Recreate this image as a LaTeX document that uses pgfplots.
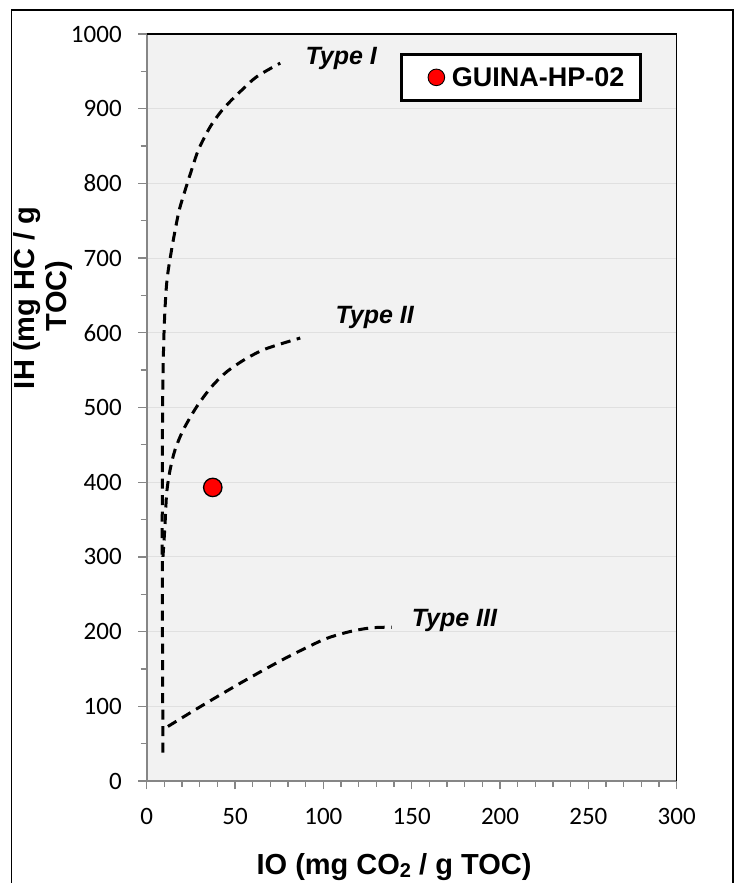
\documentclass[border=0pt]{standalone}
\usepackage{fontspec}
\setmainfont{Liberation Sans}
\newfontfamily\carlito{Carlito}
\usepackage{pgfplots}
\pgfplotsset{compat=1.18}
\definecolor{plotbg}{HTML}{F2F2F2}
\definecolor{axisgray}{HTML}{868686}
\definecolor{gridgray}{HTML}{E0E0E0}
\definecolor{markred}{HTML}{FF0000}

\begin{document}
\begin{tikzpicture}
\useasboundingbox (0,0) rectangle (734bp,883bp);
% outer chart frame
\draw[black, line width=1.3bp] (11.7bp,-2bp) -- (11.7bp,873bp) -- (733bp,873bp) -- (733bp,-2bp);
\begin{axis}[
  at={(146.7bp,102bp)}, anchor=south west,
  scale only axis, width=530bp, height=747bp,
  xmin=0, xmax=300, ymin=0, ymax=1000,
  clip=false,
  axis lines=left,
  axis line style={-, axisgray, line width=2bp},
  axis background/.style={fill=plotbg},
  xtick={0,50,...,300}, ytick={0,100,...,1000},
  minor x tick num=4, minor y tick num=1,
  tick align=outside, major tick length=8.5bp, minor tick length=6bp,
  tick style={axisgray, line width=1.3bp},
  ymajorgrids, major grid style={gridgray, line width=1bp},
  /pgf/number format/assume math mode=true,
  /pgf/number format/set thousands separator={},
  ticklabel style={font=\carlito\fontsize{25bp}{30bp}\selectfont},
  yticklabel style={xshift=-13bp},
  xticklabel style={yshift=-15bp},
  legend style={at={(0.4775,0.9743)}, anchor=north west, draw=black,
    line width=3bp, fill=white, inner xsep=16.5bp, inner ysep=12.5bp,
    nodes={inner sep=0pt},
    font=\bfseries\fontsize{27bp}{30bp}\selectfont,
    /tikz/every odd column/.append style={column sep=6.7bp}},
  legend cell align=left,
  legend image code/.code={
    \path (-17.1bp,0bp);
    \draw[fill=markred, draw=black, line width=0.9bp] (0bp,0bp) circle (8.3bp);},
]
% kerogen evolution paths
\addplot[forget plot, black, line width=3bp, dash pattern=on 10bp off 6.5bp, smooth, tension=0.5]
  coordinates {(9.2,38) (8.8,300) (9.0,500) (9.8,600) (11.3,666) (14,710) (18,760)
               (21,785) (25,815) (29.3,845) (36,876) (43.4,900) (53,923) (62.4,943) (75.6,961)};
\addplot[forget plot, black, line width=3bp, dash pattern=on 10bp off 6.5bp, smooth, tension=0.5]
  coordinates {(9.2,300) (10.3,340) (11.3,385) (13.2,416) (16,443) (20.7,470) (28.3,501)
               (36.8,528) (45.4,548) (56.7,566) (68,579) (86.9,593)};
\addplot[forget plot, black, line width=3bp, dash pattern=on 10bp off 6.5bp, smooth, tension=0.5]
  coordinates {(12,73) (30,99) (53,131) (75,160) (90,178) (102,191) (115,200)
               (127,205) (138.7,206)};
% sample
\addplot[only marks, mark=*, mark size=9.2bp,
  mark options={fill=markred, draw=black, line width=1.3bp}]
  coordinates {(37.4,393)};
\addlegendentry{GUINA-HP-02}
% path labels
\node[anchor=base west, font=\bfseries\itshape\fontsize{25bp}{30bp}\selectfont]
  at (axis cs:87.9,958.5) {Type I};
\node[anchor=base west, font=\bfseries\itshape\fontsize{25bp}{30bp}\selectfont]
  at (axis cs:104.9,612.7) {Type II};
\node[anchor=base west, font=\bfseries\itshape\fontsize{25bp}{30bp}\selectfont]
  at (axis cs:148.1,206.6) {Type III};
% plot area frame, top and right
\draw[black, line width=1.3bp] (rel axis cs:0,1) -- (rel axis cs:1,1) -- (rel axis cs:1,0);
\end{axis}
% axis titles
\node[anchor=base, font=\bfseries\fontsize{29bp}{33bp}\selectfont]
  at (394bp,9bp) {IO (mg CO\raisebox{-0.12em}{\fontsize{20bp}{22bp}\selectfont 2} / g TOC)};
\node[rotate=90, anchor=base, font=\bfseries\fontsize{29bp}{33bp}\selectfont]
  at (34bp,585bp) {IH (mg HC / g};
\node[rotate=90, anchor=base, font=\bfseries\fontsize{29bp}{33bp}\selectfont]
  at (66.7bp,587bp) {TOC)};
\end{tikzpicture}
\end{document}
